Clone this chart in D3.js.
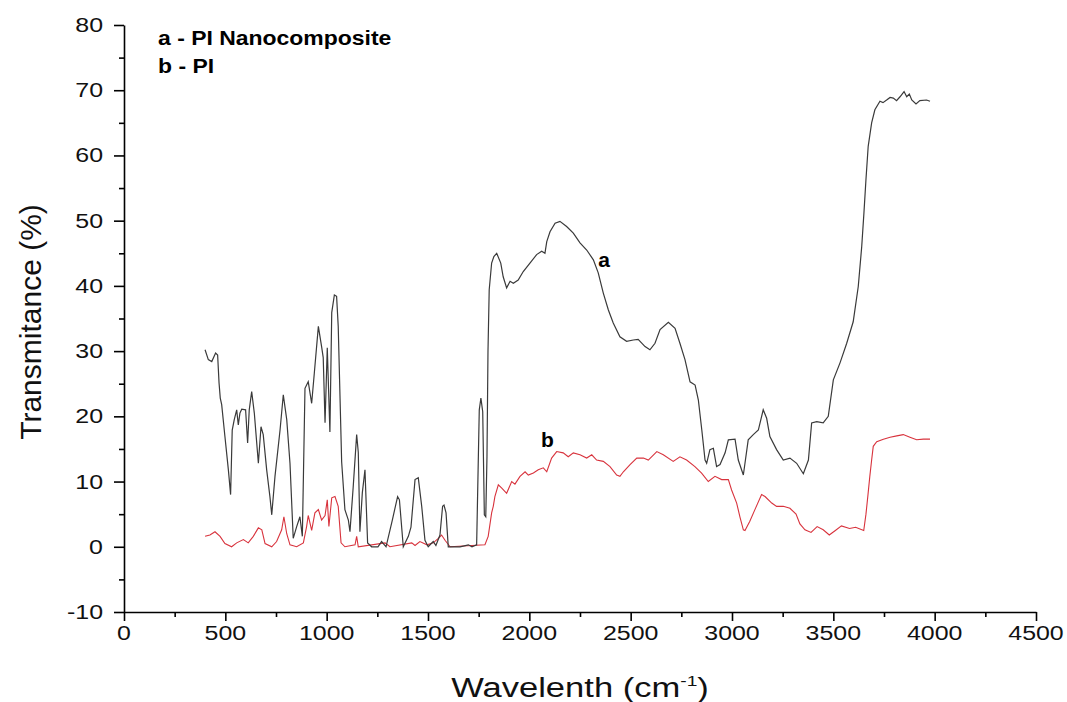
<!DOCTYPE html>
<html>
<head>
<meta charset="utf-8">
<script src="https://cdn.jsdelivr.net/npm/d3@7"></script>
<style>
  html, body { margin: 0; padding: 0; background: #fff; }
  svg { display: block; }
  text { font-family: "Liberation Sans", Arial, sans-serif; }
</style>
</head>
<body>
<svg id="chart" width="1067" height="702"></svg>
<script>
// ---- Data ----
const aWavenumber = [400,416,433,452,462,469,475,482,498,515,526,534,544,556,564,572,581,600,610,618,630,643,663,676,687,704,720,729,745,770,786,803,819,835,852,868,880,893,909,926,939,959,975,983,992,1003,1016,1025,1038,1049,1057,1074,1090,1107,1115,1131,1148,1156,1164,1176,1189,1202,1222,1253,1271,1293,1324,1350,1359,1378,1403,1416,1436,1452,1469,1485,1501,1526,1539,1559,1572,1579,1589,1600,1658,1699,1717,1740,1753,1761,1770,1778,1785,1791,1796,1802,1814,1825,1839,1859,1871,1888,1905,1921,1945,1970,2003,2036,2061,2077,2086,2102,2127,2151,2184,2217,2250,2283,2316,2340,2365,2390,2414,2447,2480,2513,2537,2571,2595,2620,2645,2686,2719,2743,2768,2793,2818,2834,2851,2867,2875,2891,2908,2924,2941,2966,2982,3015,3031,3056,3080,3105,3130,3154,3171,3187,3220,3253,3286,3319,3352,3377,3393,3418,3450,3475,3500,3533,3566,3598,3623,3640,3651,3661,3672,3689,3705,3730,3745,3763,3780,3796,3812,3829,3849,3862,3875,3887,3908,3927,3960,3977];
const aTransmittance = [30.2,28.7,28.4,29.7,29.4,25.1,22.8,21.8,16.9,11.8,8.0,17.9,19.5,21.0,18.7,20.5,21.1,21.0,15.9,21.0,23.8,20.5,12.8,18.4,17.2,11.8,7.7,4.9,10.8,17.9,23.3,19.5,12.8,1.3,3.1,4.6,1.6,24.3,25.3,22.0,26.6,33.8,30.7,29.0,19.0,30.5,17.6,35.9,38.6,38.4,33.8,13.0,5.7,4.1,2.3,9.2,17.2,14.5,2.3,8.3,11.8,0.6,0,0,0.8,0,4.1,7.7,7.2,0,1.6,3.0,10.3,10.6,6.2,1.0,0,0.8,0.2,1.8,6.2,6.4,5.2,0,0,0.3,0,0.3,21.0,22.8,20.7,4.9,4.6,13.8,30.0,39.4,43.5,44.5,45.0,43.5,41.4,39.7,40.7,40.4,40.9,42.2,43.5,44.8,45.3,45.0,46.8,48.3,49.6,49.9,49.1,48.1,46.6,45.5,44.0,42.0,38.9,36.3,34.3,32.2,31.5,31.7,31.8,30.7,30.2,31.2,33.3,34.4,33.5,31.2,28.7,25.3,24.8,22.5,17.9,13.3,12.8,14.9,15.1,12.3,12.6,14.4,16.4,16.5,13.3,11.0,16.4,17.2,17.9,21.0,19.7,16.9,14.9,13.3,13.6,12.8,11.2,13.3,19.0,19.2,19.0,20.0,25.6,28.2,31.2,34.5,39.9,46.0,51.2,56.3,61.4,65.0,67.0,68.3,68.1,68.5,68.9,68.8,68.4,69.0,69.8,69.0,69.4,68.5,67.9,68.4,68.5,68.3];

const bWavenumber = [400,424,449,474,498,531,556,589,613,638,663,680,696,729,753,778,789,803,819,852,885,901,909,926,942,959,975,992,1003,1011,1025,1041,1057,1071,1090,1140,1148,1156,1288,1312,1420,1436,1460,1495,1526,1551,1567,1584,1609,1781,1797,1814,1822,1830,1847,1864,1888,1913,1929,1954,1979,1995,2020,2044,2069,2086,2110,2135,2167,2192,2217,2250,2283,2308,2332,2365,2398,2431,2447,2464,2497,2530,2563,2587,2629,2661,2710,2743,2776,2817,2850,2883,2916,2949,2982,2998,3023,3039,3056,3064,3088,3113,3146,3163,3196,3220,3253,3286,3316,3335,3360,3390,3420,3450,3480,3510,3540,3580,3610,3650,3661,3671,3680,3689,3697,3714,3747,3780,3813,3845,3878,3911,3944,3977];
const bTransmittance = [1.6,1.8,2.3,1.6,0.5,0,0.6,1.1,0.6,1.6,2.9,2.6,0.5,0,0.8,2.6,4.6,2.0,0.3,0,0.6,3.1,4.8,2.5,5.2,5.7,4.1,4.8,7.2,3.1,7.5,7.7,6.2,0.6,0,0.3,1.6,0,0.6,0,0.6,0.2,0.8,0.3,0.6,1.3,1.8,1.0,0,0.3,1.6,5.2,6.2,7.7,9.5,9.0,8.2,10.0,9.6,10.8,11.5,11.0,11.3,11.8,12.1,11.5,13.6,14.6,14.4,13.8,14.4,14.1,13.6,14.1,13.3,13.1,12.3,11.0,10.8,11.5,12.6,13.6,13.6,13.3,14.6,14.1,13.1,13.8,13.3,12.3,11.3,10.0,10.8,10.3,10.3,8.7,6.7,4.6,2.6,2.5,3.9,5.7,8.0,7.7,6.7,6.2,6.2,5.9,5.0,3.5,2.6,2.2,3.1,2.6,1.8,2.5,3.2,2.8,3.0,2.5,5.0,8.0,10.8,13.3,15.4,16.1,16.5,16.8,17.0,17.2,16.8,16.4,16.5,16.5];

const xMajorTicks = [0,500,1000,1500,2000,2500,3000,3500,4000,4500];
const xMinorTicks = [250,750,1250,1750,2250,2750,3250,3750,4250];
const yMajorTicks = [-10,0,10,20,30,40,50,60,70,80];
const yMinorTicks = [-5,5,15,25,35,45,55,65,75];
const legendLines = ["a - PI Nanocomposite", "b - PI"];

// ---- Layout ----
const svg = d3.select("#chart");
const x = d3.scaleLinear().domain([0, 4500]).range([124, 1036]);
const y = d3.scaleLinear().domain([-10, 80]).range([612, 25]);
const stretch = 1.28;

// Series
const seriesA = aWavenumber.map((w, i) => [w, aTransmittance[i]]);
const seriesB = bWavenumber.map((w, i) => [w, bTransmittance[i]]);
const line = d3.line().x(d => x(d[0])).y(d => y(d[1]));

svg.append("path").datum(seriesB)
  .attr("d", line).attr("fill", "none")
  .attr("stroke", "#d8333d").attr("stroke-width", 1.1);
svg.append("path").datum(seriesA)
  .attr("d", line).attr("fill", "none")
  .attr("stroke", "#3a3a3a").attr("stroke-width", 1.2);

// X axis
const xAxisG = svg.append("g").attr("transform", `translate(0,${y(-10)})`);
xAxisG.call(d3.axisBottom(x).tickValues(xMajorTicks).tickSize(9).tickSizeOuter(0).tickFormat(""));
xAxisG.append("g").call(d3.axisBottom(x).tickValues(xMinorTicks).tickSize(5).tickFormat(""))
  .select(".domain").remove();
xAxisG.selectAll("path, line").attr("stroke", "#000").attr("stroke-width", 1.6);
xMajorTicks.forEach(v => {
  svg.append("text")
    .attr("transform", `translate(${x(v)},640) scale(${stretch},1)`)
    .attr("text-anchor", "middle")
    .attr("font-size", 19.5).attr("fill", "#111")
    .text(v);
});

// Y axis
const yAxisG = svg.append("g").attr("transform", `translate(${x(0)},0)`);
yAxisG.call(d3.axisLeft(y).tickValues(yMajorTicks).tickSize(10).tickSizeOuter(0).tickFormat(""));
yAxisG.append("g").call(d3.axisLeft(y).tickValues(yMinorTicks).tickSize(5).tickFormat(""))
  .select(".domain").remove();
yAxisG.selectAll("path, line").attr("stroke", "#000").attr("stroke-width", 1.6);
yMajorTicks.forEach(v => {
  svg.append("text")
    .attr("transform", `translate(103,${y(v) + 7}) scale(${stretch},1)`)
    .attr("text-anchor", "end")
    .attr("font-size", 19.5).attr("fill", "#111")
    .text(v);
});

// Axis titles
const xt = svg.append("text")
  .attr("transform", `translate(580,697) scale(${stretch},1)`)
  .attr("text-anchor", "middle").attr("font-size", 27).attr("fill", "#111");
xt.append("tspan").text("Wavelenth (cm");
xt.append("tspan").attr("font-size", 15).attr("dy", -11).text("-1");
xt.append("tspan").attr("dy", 11).text(")");

svg.append("text")
  .attr("transform", `translate(41,322) rotate(-90)`)
  .attr("text-anchor", "middle").attr("font-size", 30).attr("fill", "#111")
  .text("Transmitance (%)");

// Legend
legendLines.forEach((t, i) => {
  svg.append("text")
    .attr("transform", `translate(158,${45 + i * 28}) scale(1.12,1)`)
    .attr("font-size", 20.5).attr("font-weight", "bold").attr("fill", "#000")
    .text(t);
});

// Curve labels
svg.append("text").attr("x", x(2340)).attr("y", y(42.9))
  .attr("font-size", 21).attr("font-weight", "bold").text("a");
svg.append("text").attr("x", x(2058)).attr("y", y(15.3))
  .attr("font-size", 21).attr("font-weight", "bold").text("b");
</script>
</body>
</html>
